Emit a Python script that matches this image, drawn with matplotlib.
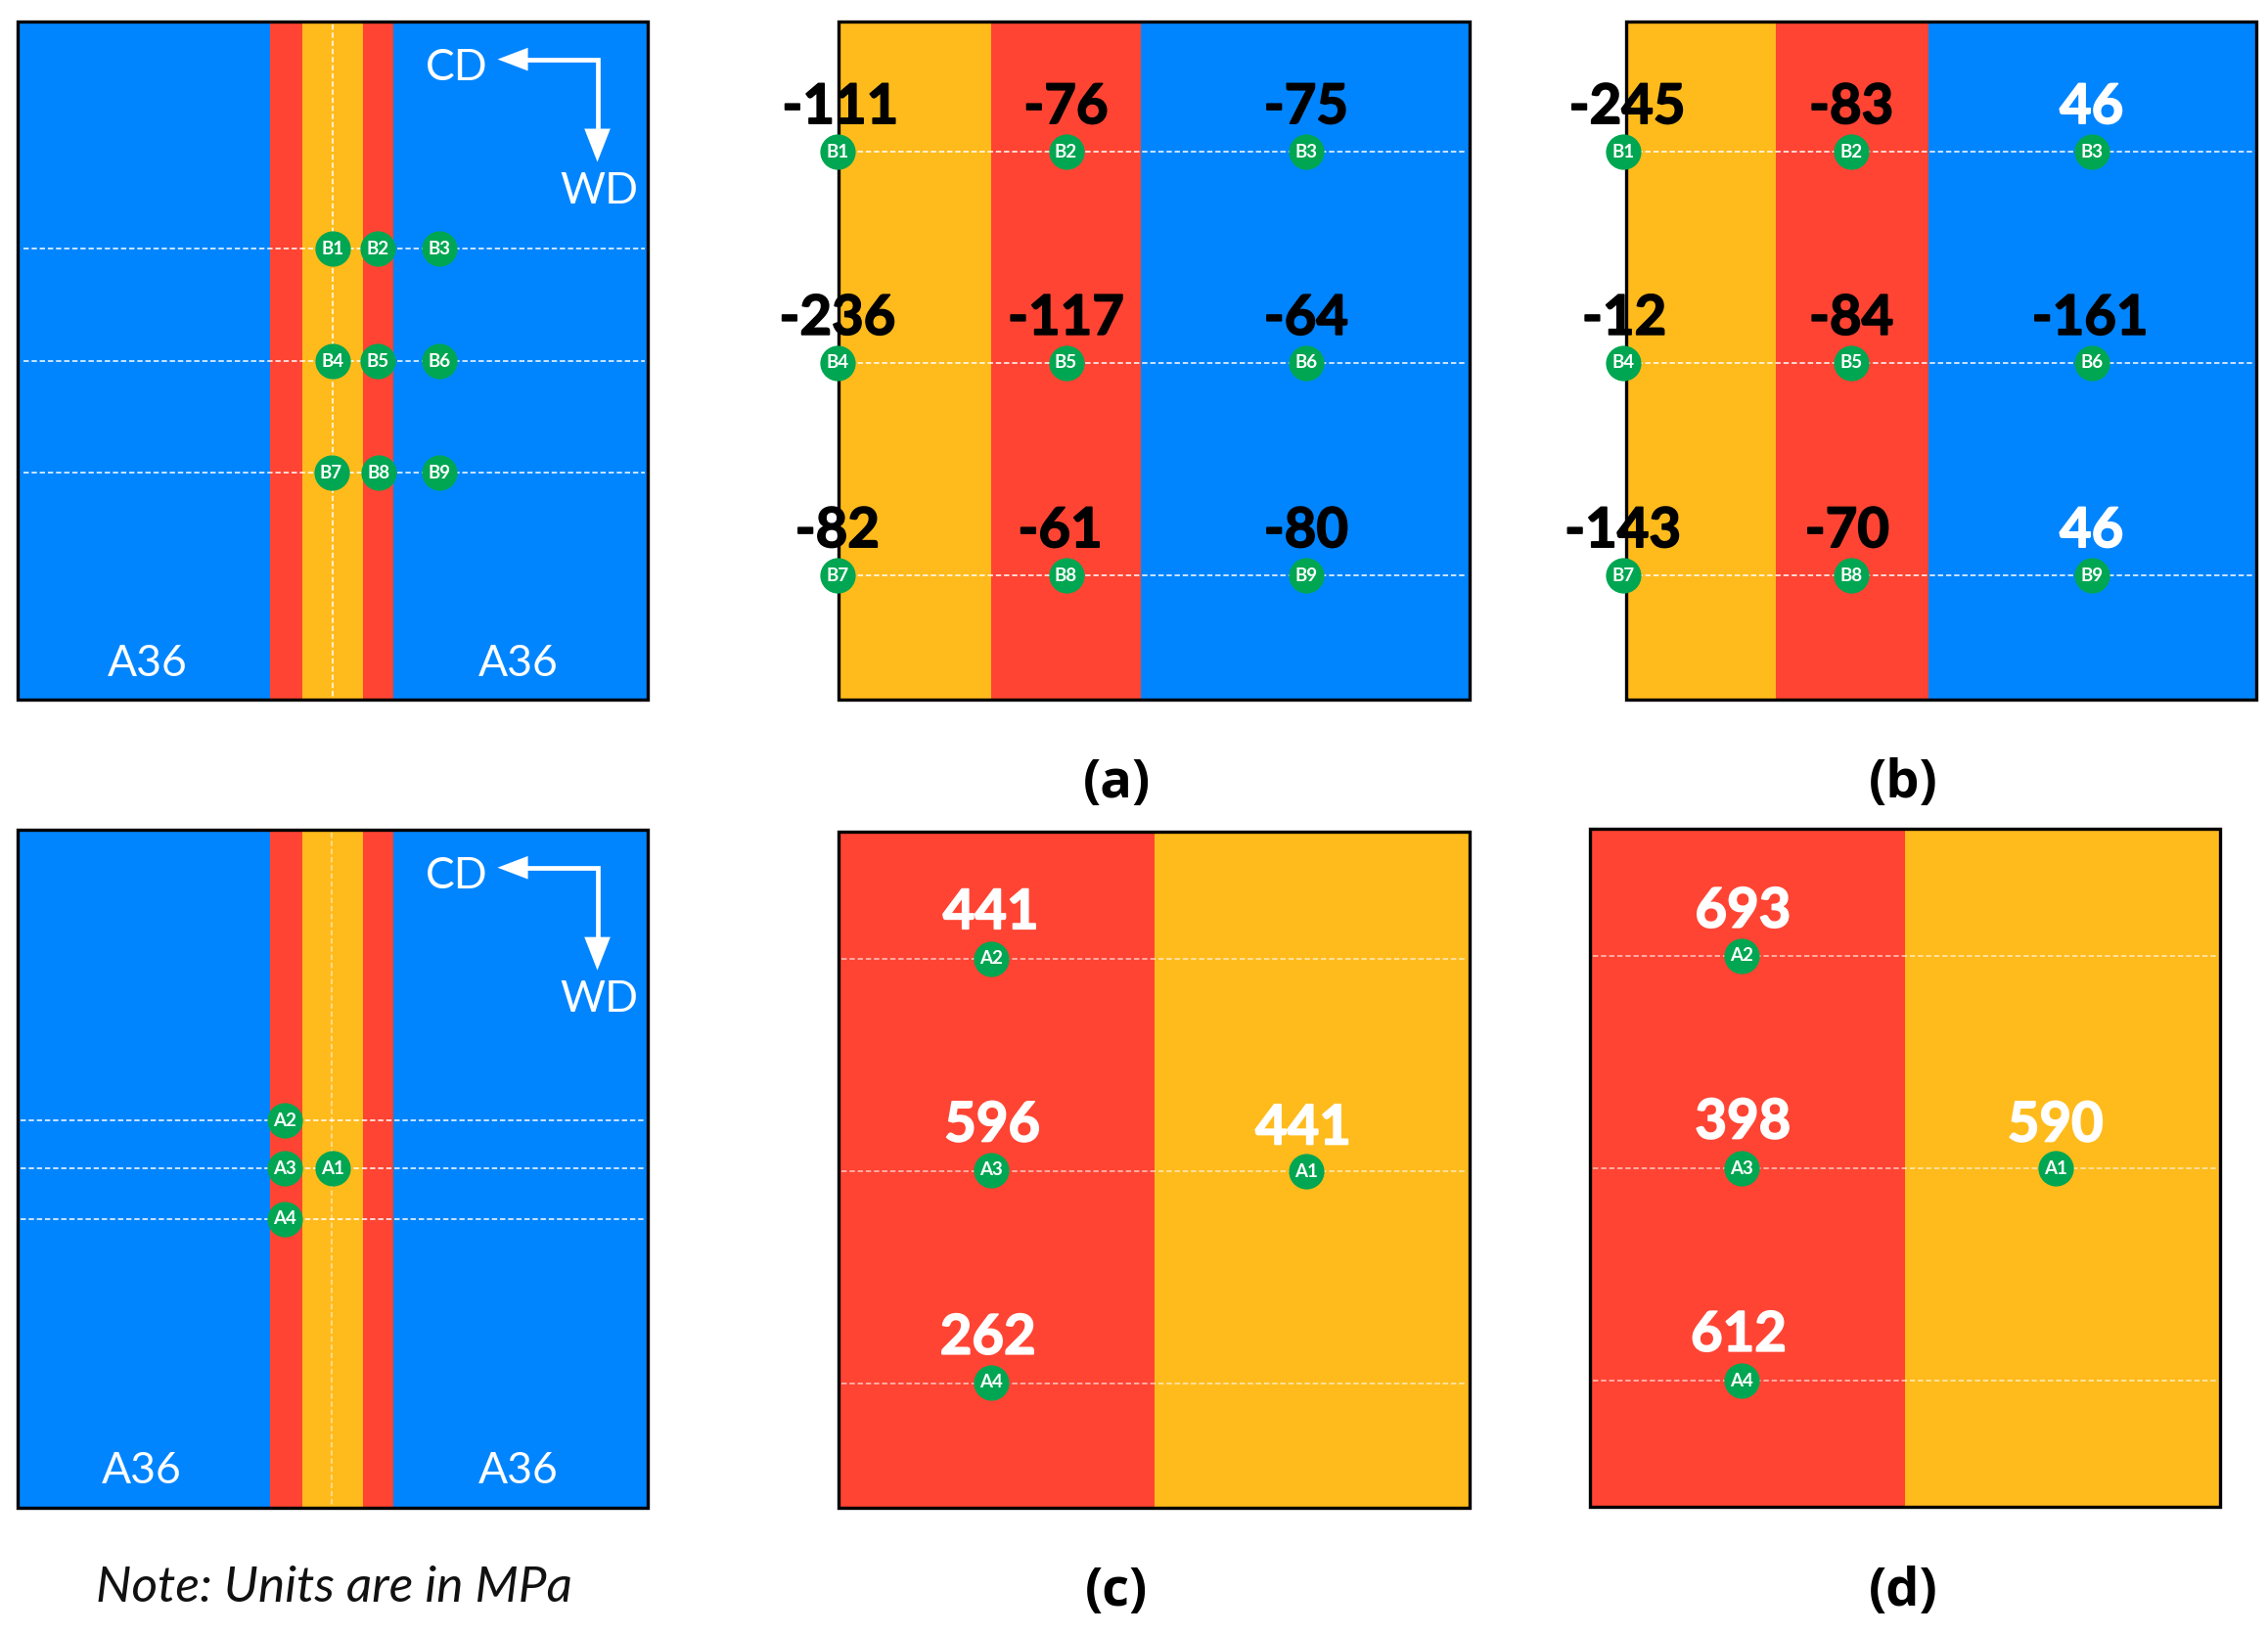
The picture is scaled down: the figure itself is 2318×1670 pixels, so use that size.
import matplotlib
matplotlib.use('Agg')
import matplotlib.pyplot as plt
import matplotlib.patheffects as pe
from matplotlib.patches import Rectangle

plt.rcParams['font.family'] = ['Lato', 'DejaVu Sans']

# stress values in MPa, panels a-d
b_labels = ['B1', 'B2', 'B3', 'B4', 'B5', 'B6', 'B7', 'B8', 'B9']
a_labels = ['A2', 'A3', 'A4', 'A1']
values_a = [-111, -76, -75, -236, -117, -64, -82, -61, -80]
values_b = [-245, -83, 46, -12, -84, -161, -143, -70, 46]
values_c = [441, 596, 262, 441]
values_d = [693, 398, 612, 590]

BLUE = '#0085FF'
RED = '#FF4433'
ORANGE = '#FFBB1C'
GREEN = '#00A651'

W, H = 1568, 1130  # working units, 1 unit = 1.478 px

fig = plt.figure(figsize=(23.18, 16.70), dpi=100)
ax = fig.add_axes([0, 0, 1, 1])
ax.set_xlim(0, W)
ax.set_ylim(H, 0)
ax.axis('off')


def panel(x0, y0, w, h, bands):
    # bands = list of (end x, colour)
    start = x0
    for end, col in bands:
        ax.add_patch(Rectangle((start, y0), end - start, h, fc=col, ec='none', zorder=1))
        start = end
    ax.add_patch(Rectangle((x0, y0), w, h, fc='none', ec='black', lw=2.4, zorder=5))


def hline(y, x0, x1, alpha=0.85):
    ax.plot([x0, x1], [y, y], color='white', lw=1.3, ls=(0, (3, 1.6)), alpha=alpha, zorder=3)


def vline(x, y0, y1, alpha=0.85):
    ax.plot([x, x], [y0, y1], color='white', lw=1.3, ls=(0, (3, 1.6)), alpha=alpha, zorder=3)


def dots(xs, ys, names):
    ax.scatter(xs, ys, s=680, color=GREEN, linewidths=0, zorder=6, clip_on=False)
    for x, y, n in zip(xs, ys, names):
        ax.text(x, y, n, color='white', fontsize=13.5, fontweight='bold', ha='center', va='center', zorder=7)


def arrows(cx, cy):
    ax.plot([cx - 50, cx, cx], [cy, cy, cy + 50], color='white', lw=3.4,
            solid_joinstyle='miter', zorder=4)
    ax.fill([cx - 69, cx - 48, cx - 48], [cy, cy - 8, cy + 8], color='white', lw=0, zorder=4)
    ax.fill([cx, cx - 9, cx + 9], [cy + 71, cy + 48, cy + 48], color='white', lw=0, zorder=4)
    ax.text(cx - 97, cy + 6, 'CD', color='white', fontsize=32, ha='center', va='center', zorder=4)
    ax.text(cx + 1, cy + 91, 'WD', color='white', fontsize=32, ha='center', va='center', zorder=4)


def numbers(xs, ys, vals):
    for x, y, v in zip(xs, ys, vals):
        col = 'white' if v > 0 else 'black'
        t = ax.text(x, y + 2.5, str(v), color=col, fontsize=40.5, fontweight='bold', ha='center', va='center',
                    zorder=8)
        # reference digits are a bit heavier than Lato bold
        t.set_path_effects([pe.withStroke(linewidth=1.2, foreground=col)])


def caption(x, y, s):
    ax.text(x, y + 2, s, fontsize=39, fontfamily='Open Sans', fontweight='bold', ha='center', va='center')


def a36(x, y):
    ax.text(x + 1, y + 2, 'A36', color='white', fontsize=32, ha='center', va='center')


# top left layout
panel(12, 15, 436, 469, [(187, BLUE), (209, RED), (251, ORANGE), (272, RED), (448, BLUE)])
for y in [172, 250, 327]:
    hline(y, 16, 446)
vline(230, 17, 482)
dots([230, 261, 304, 230, 261, 304, 229, 262, 304],
     [172, 172, 172, 250, 250, 250, 327, 327, 327], b_labels)
arrows(413, 41)
a36(101, 457)
a36(357, 457)

# (a)
panel(580, 15, 436, 469, [(685, ORANGE), (789, RED), (1016, BLUE)])
for y in [105, 251, 398]:
    hline(y, 582, 1014)
xa = [579, 737, 903] * 3
ya = [105] * 3 + [251] * 3 + [398] * 3
dots(xa, ya, b_labels)
numbers([581, 737, 903, 579, 737, 903, 579, 733, 903],
        [72] * 3 + [218] * 3 + [365] * 3, values_a)
caption(772, 540, '(a)')

# (b)
panel(1124, 15, 436, 469, [(1228, ORANGE), (1333, RED), (1560, BLUE)])
for y in [105, 251, 398]:
    hline(y, 1126, 1558)
xb = [1122, 1280, 1446] * 3
dots(xb, ya, b_labels)
numbers([1125, 1280, 1446, 1123, 1280, 1445, 1122, 1277, 1446],
        [72] * 3 + [218] * 3 + [365] * 3, values_b)
caption(1316, 540, '(b)')

# bottom left layout
panel(12, 574, 436, 469, [(187, BLUE), (209, RED), (251, ORANGE), (272, RED), (448, BLUE)])
for y in [775, 808, 843]:
    hline(y, 14, 445)
vline(229, 576, 1041, alpha=0.5)
dots([197, 197, 197, 230], [775, 808, 843, 808], a_labels)
arrows(413, 600)
a36(97, 1015)
a36(357, 1015)
ax.text(231, 1098, 'Note: Units are in MPa', fontsize=37, style='italic', color='#111111',
        ha='center', va='center')

# (c)
panel(580, 575, 436, 468, [(798, RED), (1016, ORANGE)])
for y in [663, 810, 957]:
    hline(y, 582, 1014, alpha=0.6)
dots([685, 685, 685, 903], [663, 809, 956, 810], a_labels)
numbers([685, 686, 683, 901], [629, 776, 923, 778], values_c)
caption(772, 1099, '(c)')

# (d)
panel(1099, 573, 436, 469, [(1317, RED), (1535, ORANGE)])
for y in [661, 808, 955]:
    hline(y, 1101, 1533, alpha=0.6)
dots([1204, 1204, 1204, 1421], [661, 808, 955, 808], a_labels)
numbers([1205, 1205, 1202, 1421], [628, 774, 921, 776], values_d)
caption(1316, 1099, '(d)')

fig.savefig('out.png', dpi=100, facecolor='white')
